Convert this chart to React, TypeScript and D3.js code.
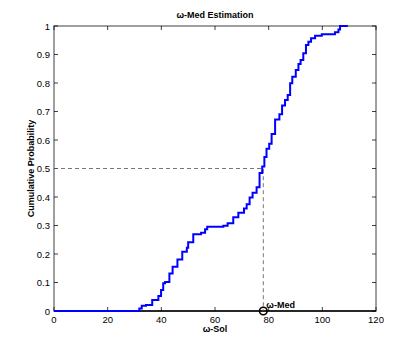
import * as d3 from "d3";

// ECDF jump locations (omega-Sol) and the cumulative level after each jump
const jumpX = [
  0, 31.8, 32.7, 34.3, 36.6, 38.9, 39.9, 40.7, 41.4, 43.0, 44.2, 46.0, 47.8,
  49.5, 50.0, 51.9, 54.8, 56.3, 57.1, 63.1, 64.7, 66.8, 68.7, 70.8, 71.8, 72.9,
  74.0, 75.5, 76.6, 77.6, 78.4, 79.2, 80.2, 81.1, 82.4, 84.0, 85.0, 86.1, 87.1,
  88.0, 88.8, 90.1, 91.1, 91.9, 92.9, 93.9, 94.8, 95.8, 97.3, 99.8, 104.7,
  106.0, 106.6, 109.5,
];
const cumProb = [
  0, 0.009, 0.018, 0.021, 0.039, 0.053, 0.074, 0.097, 0.102, 0.132, 0.155,
  0.181, 0.208, 0.222, 0.241, 0.269, 0.275, 0.287, 0.296, 0.299, 0.308, 0.329,
  0.345, 0.36, 0.375, 0.398, 0.415, 0.434, 0.484, 0.507, 0.54, 0.569, 0.587,
  0.621, 0.672, 0.69, 0.721, 0.74, 0.758, 0.799, 0.822, 0.846, 0.867, 0.881,
  0.904, 0.933, 0.945, 0.957, 0.966, 0.971, 0.978, 0.988, 1.0, 1.0,
];
const medianValue = 78;
const xTicks = [0, 20, 40, 60, 80, 100, 120];
const yTicks = [0, 0.1, 0.2, 0.3, 0.4, 0.5, 0.6, 0.7, 0.8, 0.9, 1];

const W = 415;
const H = 350;
const m = { left: 54, right: 39, top: 26, bottom: 39 };
const font = "'Liberation Sans', Arial, Helvetica, sans-serif";

export default function App() {
  const x = d3.scaleLinear().domain([0, 120]).range([m.left, W - m.right]);
  const y = d3.scaleLinear().domain([0, 1]).range([H - m.bottom, m.top]);
  const pts: [number, number][] = jumpX.map((v, i) => [x(v), y(cumProb[i])]);
  const line = d3.line().curve(d3.curveStepAfter);
  const x0 = x(0), x1 = x(120), y0 = y(0), y1 = y(1);
  const tk = 4;

  return (
    <svg
      width={W}
      height={H}
      viewBox={`0 0 ${W} ${H}`}
      style={{ position: "absolute", left: 0, top: 0, background: "#fff" }}
      fontFamily={font}
    >
      {/* frame */}
      <rect x={x0} y={y1} width={x1 - x0} height={y0 - y1} fill="#fff" stroke="#808080" strokeWidth={1.5} />
      {xTicks.map((t) => (
        <g key={"x" + t}>
          <line x1={x(t)} x2={x(t)} y1={y0} y2={y0 - tk} stroke="#000" strokeWidth={0.75} />
          <line x1={x(t)} x2={x(t)} y1={y1} y2={y1 + tk} stroke="#000" strokeWidth={0.75} />
          <text x={x(t)} y={y0 + 12} textAnchor="middle" fontSize={9.5}>
            {t}
          </text>
        </g>
      ))}
      {yTicks.map((t) => (
        <g key={"y" + t}>
          <line x1={x0} x2={x0 + tk} y1={y(t)} y2={y(t)} stroke="#000" strokeWidth={0.75} />
          <line x1={x1} x2={x1 - tk} y1={y(t)} y2={y(t)} stroke="#000" strokeWidth={0.75} />
          <text x={x0 - 4} y={y(t) + 3.5} textAnchor="end" fontSize={9.5}>
            {t}
          </text>
        </g>
      ))}
      {/* baseline */}
      <line x1={x0} x2={x1} y1={y0} y2={y0} stroke="#000" strokeWidth={1.5} />
      {/* median guides */}
      <path
        d={`M${x0},${y(0.5)}H${x(medianValue)}V${y0}`}
        fill="none"
        stroke="#555"
        strokeWidth={0.8}
        strokeDasharray="4,3"
      />
      <path d={line(pts) ?? ""} fill="none" stroke="#0000ff" strokeWidth={2} />
      <circle cx={x(medianValue)} cy={y0} r={3.8} fill="none" stroke="#000" strokeWidth={1.6} />
      <text x={x(medianValue) + 3} y={y0 - 3} fontSize={9} fontWeight="bold">
        ω-Med
      </text>
      <text x={(x0 + x1) / 2} y={18} textAnchor="middle" fontSize={9} fontWeight="bold">
        ω-Med Estimation
      </text>
      <text x={(x0 + x1) / 2} y={332} textAnchor="middle" fontSize={9} fontWeight="bold">
        ω-Sol
      </text>
      <text
        transform={`translate(34,${(y0 + y1) / 2}) rotate(-90)`}
        textAnchor="middle"
        fontSize={9}
        fontWeight="bold"
      >
        Cumulative Probability
      </text>
    </svg>
  );
}
